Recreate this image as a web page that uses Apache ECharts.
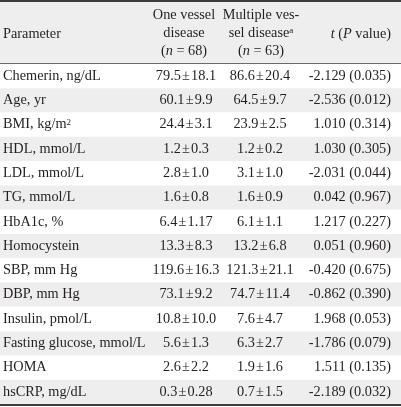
<!DOCTYPE html>
<html><head><meta charset="utf-8">
<script src="https://cdn.jsdelivr.net/npm/echarts@6/dist/echarts.min.js"></script>
<style>html,body{margin:0;padding:0;background:#fff}#c{width:401px;height:407px}</style>
</head><body><div id="c"></div>
<script>
// ---- data ----
const parameters = ["Chemerin, ng/dL","Age, yr","BMI, kg/m{sup|2}","HDL, mmol/L","LDL, mmol/L","TG, mmol/L","HbA1c, %","Homocystein","SBP, mm Hg","DBP, mm Hg","Insulin, pmol/L","Fasting glucose, mmol/L","HOMA","hsCRP, mg/dL"];
const oneVessel = ["79.5±18.1","60.1±9.9","24.4±3.1","1.2±0.3","2.8±1.0","1.6±0.8","6.4±1.17","13.3±8.3","119.6±16.3","73.1±9.2","10.8±10.0","5.6±1.3","2.6±2.2","0.3±0.28"];
const multiVessel = ["86.6±20.4","64.5±9.7","23.9±2.5","1.2±0.2","3.1±1.0","1.6±0.9","6.1±1.1","13.2±6.8","121.3±21.1","74.7±11.4","7.6±4.7","6.3±2.7","1.9±1.6","0.7±1.5"];
const tValues = ["-2.129 (0.035)","-2.536 (0.012)","1.010 (0.314)","1.030 (0.305)","-2.031 (0.044)","0.042 (0.967)","1.217 (0.227)","0.051 (0.960)","-0.420 (0.675)","-0.862 (0.390)","1.968 (0.053)","-1.786 (0.079)","1.511 (0.135)","-2.189 (0.032)"];
const headerParam = "Parameter";
const headerOne = ["One vessel","disease","({i|n} = 68)"];
const headerMulti = ["Multiple ves-","sel disease{sup|a}","({i|n} = 63)"];
const headerT = "{i|t} ({i|P} value)";

// ---- style ----
const FONT = "'Liberation Serif', 'DejaVu Serif', serif";
const FS = 14.3;
const TXT = '#231f20';
const BAND = '#eeeeee';
const rich = {
  sup: {fontFamily: FONT, fontSize: 9, fill: TXT, color: TXT, verticalAlign: 'top', padding:[0,0,4,0]},
  i: {fontFamily: FONT, fontSize: FS, fontStyle: 'italic', color: TXT, fill: TXT},
  pm: {fontFamily: FONT, fontSize: FS, color: TXT, fill: TXT, padding: [0, 1.2, 0, 1.2]}
};
const COL1 = 3, COL2 = 186, COL3 = 260, COL4 = 391;
const pm = s => s.replace('±', '{pm|±}');

const chart = echarts.init(document.getElementById('c'), null, {renderer: 'canvas'});

function txt(x, y, text, align) {
  return {type: 'text', x: x, y: y, style: {text: text, fontFamily: FONT, fontSize: FS, fill: TXT, align: align, verticalAlign: 'middle', rich: rich}};
}

const headerEls = [
  {type:'rect', shape:{x:0,y:0,width:401,height:63}, style:{fill:BAND}, z:0},
  {type:'line', shape:{x1:0,y1:1,x2:401,y2:1}, style:{stroke:'#3d3d3d', lineWidth:2}, z:5},
  {type:'line', shape:{x1:0,y1:63.5,x2:401,y2:63.5}, style:{stroke:'#6a6a6a', lineWidth:1}, z:5},
  {type:'line', shape:{x1:0,y1:405,x2:401,y2:405}, style:{stroke:'#3d3d3d', lineWidth:2}, z:5},
  Object.assign(txt(COL1, 34, headerParam, 'left'), {z:5}),
  Object.assign(txt(COL4, 34, headerT, 'right'), {z:5})
];
headerOne.forEach((t, k) => headerEls.push(Object.assign(txt(184, 15 + k*18, t, 'center'), {z:5})));
headerMulti.forEach((t, k) => headerEls.push(Object.assign(txt(261, 15 + k*18, t, 'center'), {z:5})));

chart.setOption({
  animation: false,
  backgroundColor: '#fff',
  grid: {left: 0, right: 0, top: 64, bottom: 3},
  xAxis: {type: 'value', min: 0, max: 401, show: false},
  yAxis: {type: 'category', data: parameters, inverse: true, show: false},
  graphic: headerEls,
  series: [{
    type: 'custom',
    data: parameters.map((p, i) => [i]),
    encode: {x: -1, y: 0},
    renderItem: function (params, api) {
      const i = api.value(0);
      const c = api.coord([0, i]);
      const h = api.size([0, 1])[1];
      const y = c[1];
      return {
        type: 'group',
        children: [
          {type: 'rect', shape: {x: api.coord([0, i])[0], y: y - h/2, width: api.coord([401, i])[0], height: h}, style: {fill: i % 2 ? BAND : '#ffffff'}},
          txt(api.coord([COL1, i])[0], y, parameters[i], 'left'),
          txt(api.coord([COL2, i])[0], y, pm(oneVessel[i]), 'center'),
          txt(api.coord([COL3, i])[0], y, pm(multiVessel[i]), 'center'),
          txt(api.coord([COL4, i])[0], y, tValues[i], 'right')
        ]
      };
    }
  }]
});
</script></body></html>
